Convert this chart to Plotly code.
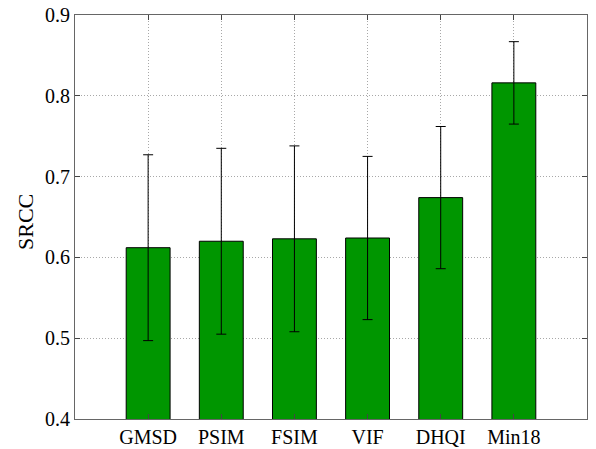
import plotly.graph_objects as go

methods = ["GMSD", "PSIM", "FSIM", "VIF", "DHQI", "Min18"]
positions = [1, 2, 3, 4, 5, 6]
srcc = [0.612, 0.620, 0.623, 0.624, 0.674, 0.816]
err_plus = [0.115, 0.115, 0.115, 0.101, 0.088, 0.051]
err_minus = [0.115, 0.115, 0.115, 0.101, 0.088, 0.051]
yticks = [0.4, 0.5, 0.6, 0.7, 0.8, 0.9]

font_family = "Liberation Serif"
W, H = 596, 449
ML, MR, MT, MB = 75, 9, 15, 30

fig = go.Figure()
fig.add_trace(go.Bar(
    x=positions, y=srcc, width=0.6,
    marker=dict(color="rgb(0,150,0)", line=dict(color="black", width=1)),
    error_y=dict(type="data", symmetric=False, array=err_plus, arrayminus=err_minus,
                 color="black", thickness=1, width=5),
))

fig.update_layout(
    width=W, height=H,
    margin=dict(l=ML, r=MR, t=MT, b=MB),
    paper_bgcolor="white", plot_bgcolor="white",
    font=dict(family=font_family, size=20, color="black"),
    showlegend=False,
)
axis_common = dict(
    showgrid=True, gridcolor="#a8a8a8", griddash="1px,2px", gridwidth=1,
    showline=True, linecolor="#666", linewidth=1, mirror="ticks",
    ticks="inside", ticklen=5, tickcolor="#444", automargin=False,
    zeroline=False, tickfont=dict(size=20, family=font_family, color="black"),
)
fig.update_xaxes(range=[0, 7], tickvals=positions, ticktext=methods, **axis_common)
fig.update_yaxes(
    range=[0.4, 0.9], tickvals=yticks, ticktext=[f"{v:.1f}" for v in yticks],
    **axis_common,
)
fig.add_annotation(
    text="SRCC", textangle=-90, showarrow=False,
    xref="paper", yref="paper",
    x=(25 - ML) / (W - ML - MR), y=0.5 - (222 - (MT + (H - MT - MB) / 2)) / (H - MT - MB),
    xanchor="center", yanchor="middle",
    font=dict(size=22, family=font_family, color="black"),
)
fig.write_html(
    "out.html",
    config={"displayModeBar": False},
    post_script="document.body.style.margin='0px';document.body.style.overflow='hidden';",
)
